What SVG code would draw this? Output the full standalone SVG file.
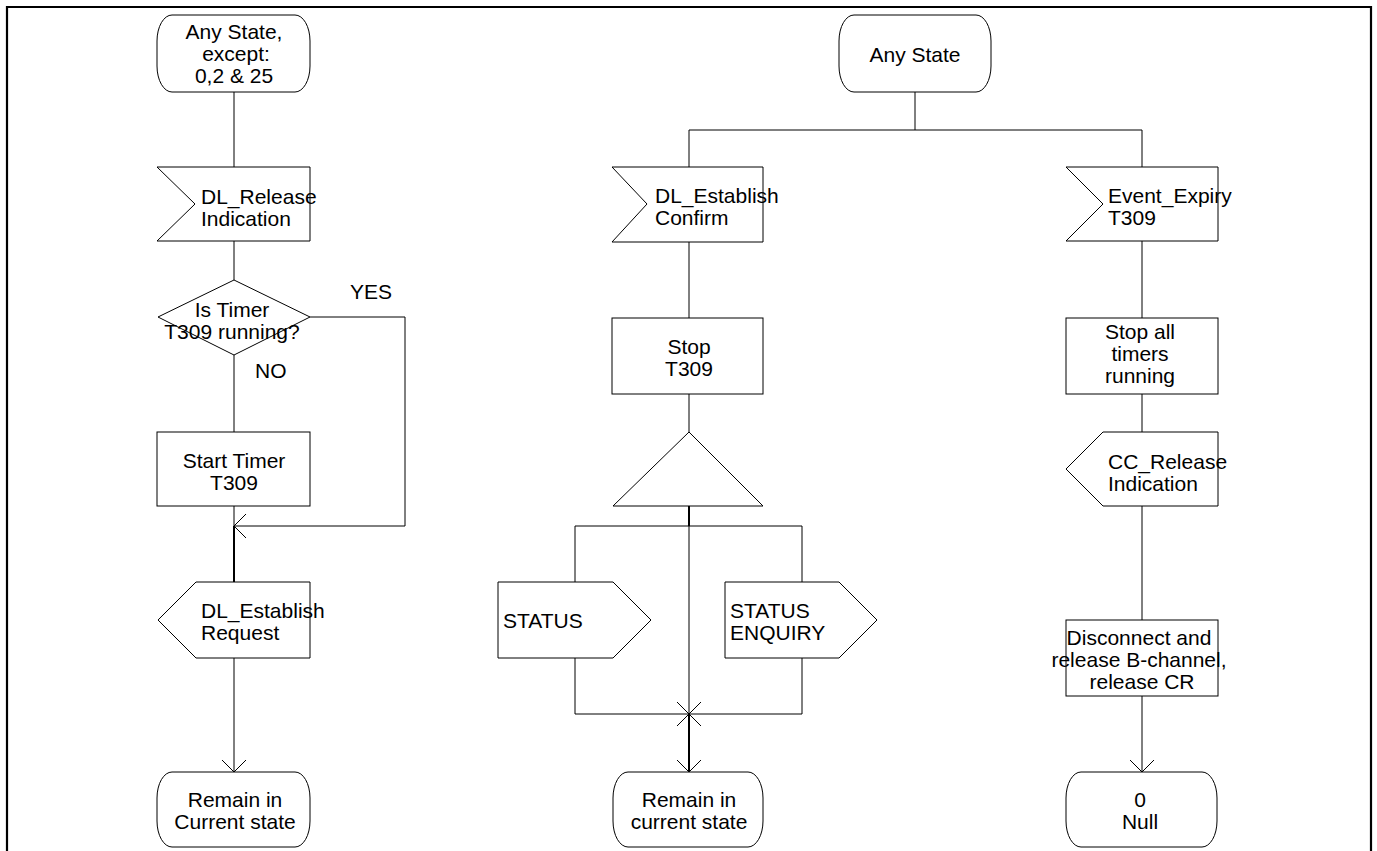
<svg xmlns="http://www.w3.org/2000/svg" width="1377" height="851" viewBox="0 0 1377 851">
<style>
.s{fill:#fff;stroke:#000;stroke-width:1}
.c{fill:none;stroke:#000;stroke-width:1}
.b{fill:none;stroke:#000;stroke-width:2}
text{font-family:"Liberation Sans",Arial,sans-serif;font-size:21px;fill:#000}
.m{text-anchor:middle}
</style>
<defs>
<marker id="arr" markerUnits="userSpaceOnUse" markerWidth="16" markerHeight="28" refX="13" refY="13" orient="auto" viewBox="0 0 16 28">
<path d="M1,1 L13,13 L1,25" fill="none" stroke="#000" stroke-width="1"/>
</marker>
</defs>
<rect width="1377" height="851" fill="#fff"/>
<path d="M7,851 V7 H1371 V851" fill="none" stroke="#000" stroke-width="2.2"/>

<g id="connectors">
<path class="c" d="M234,92 V167"/>
<path class="c" d="M234,241 V280"/>
<path class="c" d="M310,317 H405 V526 H234" marker-end="url(#arr)"/>
<path class="c" d="M234,355 V432"/>
<path class="c" d="M234,506 V526"/>
<path class="b" d="M234,526 V582"/>
<path class="c" d="M234,658 V772" marker-end="url(#arr)"/>
<path class="c" d="M915,92 V130"/>
<path class="c" d="M689,130 H1142"/>
<path class="c" d="M689,130 V167"/>
<path class="c" d="M689,242 V318"/>
<path class="c" d="M689,394 V432"/>
<path class="b" d="M689,506 V526"/>
<path class="c" d="M575,582 V526 H802 V582"/>
<path class="c" d="M689,526 V714"/>
<path class="c" d="M575,658 V714 H802 V658"/>
<path class="c" d="M677,702 L701,726 M701,702 L677,726"/>
<path class="b" d="M689,714 V771"/>
<path class="c" d="M689,760 V772" marker-end="url(#arr)"/>
<path class="c" d="M1142,130 V167"/>
<path class="c" d="M1142,241 V318"/>
<path class="c" d="M1142,394 V432"/>
<path class="c" d="M1142,506 V620"/>
<path class="c" d="M1142,696 V772" marker-end="url(#arr)"/>
</g>

<g id="start-left">
<rect class="s" x="157" y="15" width="153" height="77" rx="15" ry="26"/>
<text class="m" x="234" y="39">Any State,</text>
<text class="m" x="236" y="61">except:</text>
<text class="m" x="234" y="83">0,2 &amp; 25</text>
</g>
<g id="in-dl-release">
<polygon class="s" points="157,167 310,167 310,241 157,241 195,204"/>
<text x="201" y="204">DL_Release</text>
<text x="201" y="226">Indication</text>
</g>
<g id="dec-t309">
<polygon class="s" points="158,317 234,280 310,317 234,355"/>
<text class="m" x="232" y="317">Is Timer</text>
<text class="m" x="232" y="339">T309 running?</text>
</g>
<g id="lbl-yes"><text x="350" y="299">YES</text></g>
<g id="lbl-no"><text x="255" y="378">NO</text></g>
<g id="task-start">
<rect class="s" x="157" y="432" width="153" height="74"/>
<text class="m" x="234" y="468">Start Timer</text>
<text class="m" x="234" y="490">T309</text>
</g>
<g id="out-dl-est-req">
<polygon class="s" points="196,582 310,582 310,658 196,658 158,620"/>
<text x="201" y="618">DL_Establish</text>
<text x="201" y="640">Request</text>
</g>
<g id="end-left">
<rect class="s" x="157" y="772" width="153" height="75" rx="15" ry="26"/>
<text class="m" x="235" y="807">Remain in</text>
<text class="m" x="235" y="829">Current state</text>
</g>

<g id="start-mid">
<rect class="s" x="839" y="15" width="152" height="77" rx="15" ry="26"/>
<text class="m" x="915" y="62">Any State</text>
</g>
<g id="in-dl-est-conf">
<polygon class="s" points="612,167 763,167 763,242 612,242 647,204"/>
<text x="655" y="203">DL_Establish</text>
<text x="655" y="225">Confirm</text>
</g>
<g id="task-stop">
<rect class="s" x="612" y="318" width="151" height="76"/>
<text class="m" x="689" y="354">Stop</text>
<text class="m" x="689" y="376">T309</text>
</g>
<g id="tri">
<polygon class="s" points="689,432 763,506 613,506"/>
</g>
<g id="out-status">
<polygon class="s" points="498,582 613,582 651,620 613,658 498,658"/>
<text x="503" y="628">STATUS</text>
</g>
<g id="out-status-enq">
<polygon class="s" points="725,582 839,582 877,620 839,658 725,658"/>
<text x="730" y="618">STATUS</text>
<text x="730" y="640">ENQUIRY</text>
</g>
<g id="end-mid">
<rect class="s" x="613" y="772" width="150" height="75" rx="15" ry="26"/>
<text class="m" x="689" y="807">Remain in</text>
<text class="m" x="689" y="829">current state</text>
</g>

<g id="in-expiry">
<polygon class="s" points="1066,167 1218,167 1218,241 1066,241 1103,204"/>
<text x="1108" y="203">Event_Expiry</text>
<text x="1108" y="225">T309</text>
</g>
<g id="task-stop-all">
<rect class="s" x="1066" y="318" width="152" height="76"/>
<text class="m" x="1140" y="339">Stop all</text>
<text class="m" x="1140" y="361">timers</text>
<text class="m" x="1140" y="383">running</text>
</g>
<g id="out-cc-rel">
<polygon class="s" points="1103,432 1218,432 1218,506 1103,506 1066,469"/>
<text x="1108" y="469">CC_Release</text>
<text x="1108" y="491">Indication</text>
</g>
<g id="task-disc">
<rect class="s" x="1066" y="620" width="152" height="76"/>
<text class="m" x="1139" y="645">Disconnect and</text>
<text class="m" x="1139" y="667">release B-channel,</text>
<text class="m" x="1142" y="689">release CR</text>
</g>
<g id="end-right">
<rect class="s" x="1066" y="772" width="151" height="75" rx="15" ry="26"/>
<text class="m" x="1140" y="807">0</text>
<text class="m" x="1140" y="829">Null</text>
</g>
</svg>
